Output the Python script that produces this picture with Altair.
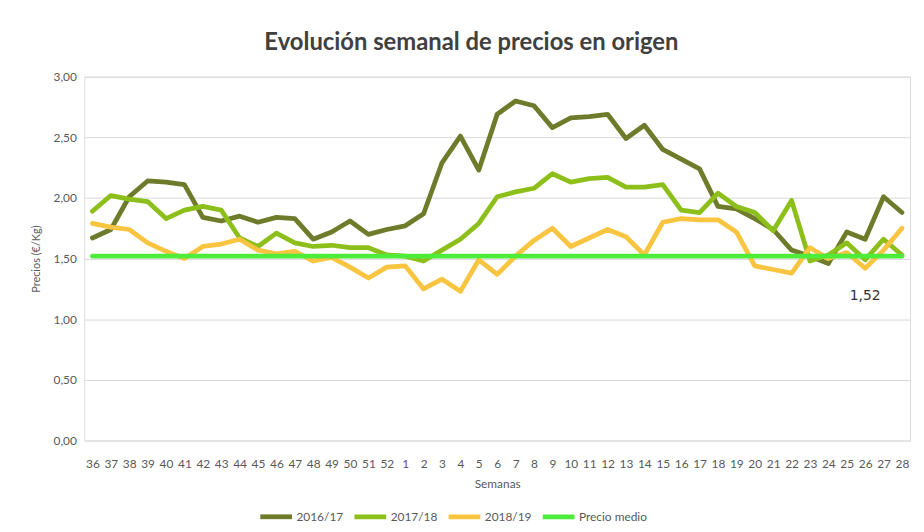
import altair as alt
import pandas as pd

semanas = ["36", "37", "38", "39", "40", "41", "42", "43", "44", "45", "46", "47",
           "48", "49", "50", "51", "52", "1", "2", "3", "4", "5", "6", "7", "8", "9",
           "10", "11", "12", "13", "14", "15", "16", "17", "18", "19", "20", "21",
           "22", "23", "24", "25", "26", "27", "28"]

p2016 = [1.67, 1.74, 2.01, 2.14, 2.13, 2.11, 1.84, 1.81, 1.85, 1.80, 1.84, 1.83,
         1.66, 1.72, 1.81, 1.70, 1.74, 1.77, 1.87, 2.29, 2.51, 2.23, 2.69, 2.80,
         2.76, 2.58, 2.66, 2.67, 2.69, 2.49, 2.60, 2.40, 2.32, 2.24, 1.93, 1.91,
         1.83, 1.74, 1.57, 1.52, 1.46, 1.72, 1.66, 2.01, 1.88]

p2017 = [1.89, 2.02, 1.99, 1.97, 1.83, 1.90, 1.93, 1.90, 1.67, 1.60, 1.71, 1.63,
         1.60, 1.61, 1.59, 1.59, 1.53, 1.52, 1.48, 1.57, 1.66, 1.79, 2.01, 2.05,
         2.08, 2.20, 2.13, 2.16, 2.17, 2.09, 2.09, 2.11, 1.90, 1.88, 2.04, 1.93,
         1.88, 1.73, 1.98, 1.48, 1.53, 1.63, 1.49, 1.66, 1.53]

p2018 = [1.79, 1.76, 1.74, 1.63, 1.56, 1.50, 1.60, 1.62, 1.66, 1.57, 1.54, 1.56,
         1.48, 1.51, 1.43, 1.34, 1.43, 1.44, 1.25, 1.33, 1.23, 1.49, 1.37, 1.52,
         1.65, 1.75, 1.60, 1.67, 1.74, 1.68, 1.53, 1.80, 1.83, 1.82, 1.82, 1.72,
         1.44, 1.41, 1.38, 1.59, 1.50, 1.55, 1.42, 1.57, 1.75]

precio_medio = 1.52

series = ["2016/17", "2017/18", "2018/19", "Precio medio"]
colores = ["#6E7B2B", "#8DBF1A", "#F9C440", "#4DEB3A"]

rows = []
for s, vals in zip(series[:3], [p2016, p2017, p2018]):
    for w, v in zip(semanas, vals):
        rows.append({"serie": s, "semana": w, "precio": v, "orden": series.index(s)})
for w in semanas:
    rows.append({"serie": "Precio medio", "semana": w, "precio": precio_medio, "orden": 3})
df = pd.DataFrame(rows)

FONT = "Lato"
GREY = "#595959"

x_enc = alt.X("semana:O", sort=semanas,
              scale=alt.Scale(type="point", padding=0.44),
              axis=alt.Axis(title="Semanas", labelAngle=0, labelPadding=18,
                            labelFontSize=12, labelColor=GREY, labelFont=FONT,
                            titleFont=FONT, titleFontSize=12, titleColor=GREY,
                            titleFontWeight="normal", titlePadding=9,
                            ticks=False, domain=False, grid=False))
y_enc = alt.Y("precio:Q",
              scale=alt.Scale(domain=[0, 3], nice=False, zero=True),
              axis=alt.Axis(title="Precios (€/Kg)", values=[0, 0.5, 1, 1.5, 2, 2.5, 3],
                            labelExpr="replace(format(datum.value, '.2f'), '.', ',')",
                            labelFontSize=12, labelColor=GREY, labelFont=FONT,
                            labelPadding=8,
                            titleFont=FONT, titleFontSize=11, titleColor=GREY,
                            titleFontWeight="normal", titlePadding=12,
                            ticks=False, domain=False, gridColor="#D9D9D9",
                            gridWidth=1))

lines = alt.Chart(df).mark_line(strokeWidth=4.8, strokeJoin="round", strokeCap="round").encode(
    x=x_enc,
    y=y_enc,
    color=alt.Color("serie:N", sort=series,
                    scale=alt.Scale(domain=series, range=colores),
                    legend=alt.Legend(title=None, orient="none", direction="horizontal",
                                      legendX=175, legendY=425,
                                      symbolType="stroke", symbolSize=1024,
                                      symbolStrokeWidth=4.8, labelFont=FONT,
                                      labelFontSize=12, labelColor=GREY,
                                      labelOffset=2, columnPadding=0)),
    order=alt.Order("orden:Q"),
)

etiqueta = pd.DataFrame({"semana": ["26"], "precio": [precio_medio], "texto": ["1,52"]})
texto = alt.Chart(etiqueta).mark_text(dy=40, fontSize=14, color="#333333",
                                      font="DejaVu Sans", baseline="middle").encode(
    x=alt.X("semana:O", sort=semanas),
    y=alt.Y("precio:Q"),
    text="texto:N",
)

chart = (lines + texto).properties(
    width=833, height=367,
    title=alt.TitleParams("Evolución semanal de precios en origen", font=FONT,
                          fontSize=24, fontWeight="bold", color="#404040",
                          anchor="middle", offset=16, dx=-26),
    autosize=alt.AutoSizeParams(type="none"),
    padding={"left": 77, "top": 67, "right": 6, "bottom": 90},
).configure_view(stroke=None).configure(background="white")

chart.save("out.html", embed_options={"renderer": "svg", "actions": False})
